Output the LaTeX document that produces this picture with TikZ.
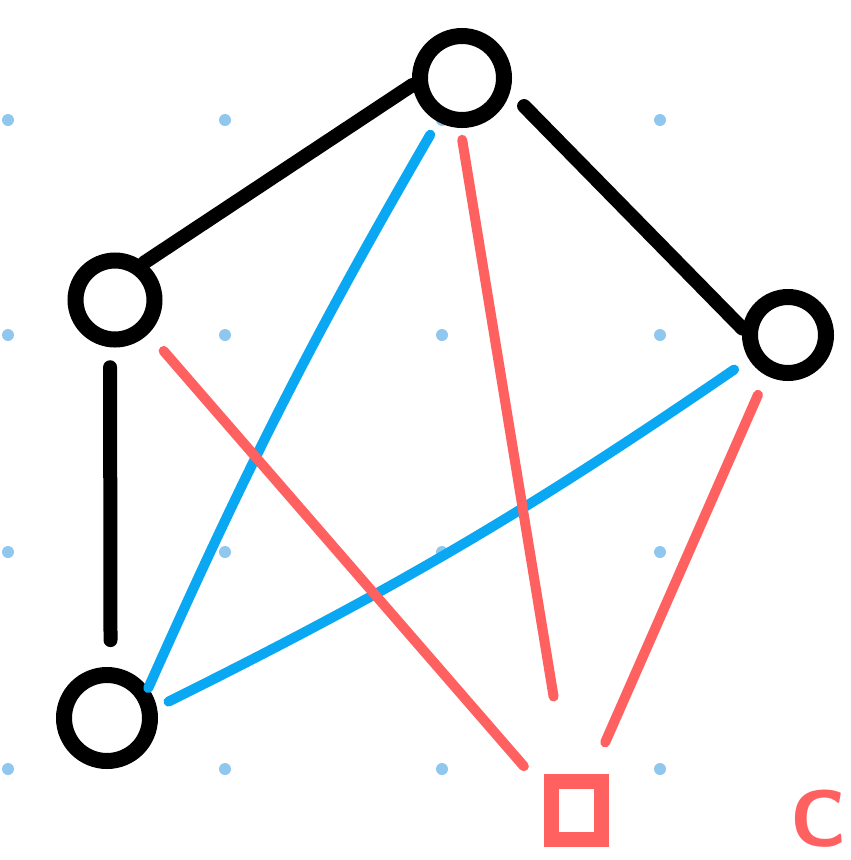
\documentclass[tikz,border=0pt]{standalone}
\usepackage{tikz}
\definecolor{dotblue}{HTML}{8FC7EE}
\definecolor{edgeblue}{HTML}{0AA8F2}
\definecolor{edgered}{HTML}{FF6161}
\tikzset{
    vertex/.style={circle, draw=black, line width=16pt, inner sep=0pt},
    gridpoint/.style={circle, fill=dotblue, inner sep=0pt, minimum size=12pt},
    blackedge/.style={draw=black, line width=14pt, line cap=round},
    blueedge/.style={draw=edgeblue, line width=10pt, line cap=round},
    rededge/.style={draw=edgered, line width=10pt, line cap=round},
    target/.style={rectangle, draw=edgered, line width=15pt, inner sep=0pt,
        minimum width=50pt, minimum height=58pt}
}

\begin{document}
\begin{tikzpicture}[x=1pt, y=-1pt]
            \useasboundingbox (0,0) rectangle (851,860);

            % 1. Dot grid
            \foreach \x in {8,225,442,660}
                \foreach \y in {120,335,552,769}
                    \node[gridpoint] (p-\x-\y) at (\x,\y) {};

            % 2. Vertices
            \node[vertex, minimum size=84pt] (a) at (462,78) {};
            \node[vertex, minimum size=79pt] (b) at (115,300) {};
            \node[vertex, minimum size=76pt] (c) at (788,335) {};
            \node[vertex, minimum size=86pt] (d) at (107,718) {};
            \node[target] (e) at (576,810) {};

            % 3. Black edges
            \draw[blackedge] (a.188) -- (b.52);
            \draw[blackedge, shorten <=20pt] (a.344) -- (c.172);
            \draw[blackedge, shorten <=20pt, shorten >=27pt] (b.264) -- (d.86);

            % 4. Blue edges
            \draw[blueedge, shorten <=15pt] (a.241) to[bend right=3] (d.36);
            \draw[blueedge, shorten <=18pt, shorten >=13pt] (c.212) to[bend left=4] (d.12);

            % 5. Red edges
            \draw[rededge, shorten <=23pt, shorten >=30pt] (b.315) -- (e.147);
            \draw[rededge, shorten <=12pt, shorten >=78pt] (a.268) -- (e.105);
            \draw[rededge, shorten <=21pt, shorten >=34pt] (c.242) -- (e.67);

            % 6. Label
            \node[text=edgered, inner sep=1pt, anchor=base east,
                font=\sffamily\bfseries\fontsize{80}{80}\selectfont] (lbl) at (848,846) {C};
\end{tikzpicture}
\end{document}
